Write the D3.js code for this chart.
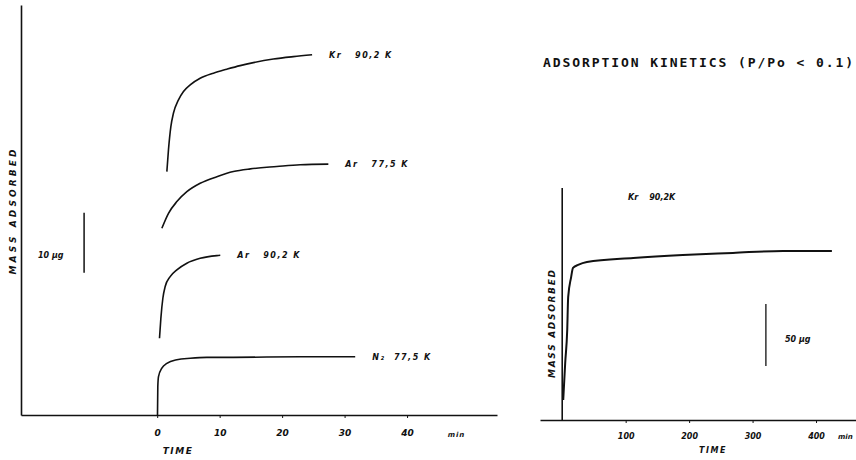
<!DOCTYPE html>
<html><head><meta charset="utf-8">
<script src="https://cdn.jsdelivr.net/npm/d3@7"></script>
<style>
body{margin:0;background:#fff;}
svg{display:block;}
text{font-family:"DejaVu Sans",sans-serif;font-weight:bold;font-style:italic;fill:#111;white-space:pre;}
</style></head>
<body>
<svg id="c" width="856" height="460"></svg>
<script>
// ---- Data (time in min, mass in µg, curves offset as drawn) ----
const leftTicks = [0, 10, 20, 30, 40];
const rightTicks = [100, 200, 300, 400];

const krLeftT = [1.55,1.81,2.19,2.61,3.41,4.21,5.28,6.88,9.01,11.15,13.28,15.4,18.6,21.8,24.8];
const krLeftM = [40.55,44.2,48.05,50.3,52.5,53.9,55,56.1,56.95,57.6,58.2,58.7,59.3,59.7,60];

const ar775T = [0.75,1.81,3.15,4.75,6.88,9.55,12.2,14.9,19.15,22.9,27.4];
const ar775M = [31.1,33.6,35.55,37.2,38.6,39.7,40.55,41,41.4,41.7,41.8];

const ar902T = [0.37,0.59,0.91,1.28,2.08,3.15,4.75,6.88,9.55,10.1];
const ar902M = [12.78,16.1,19.45,21.4,23.05,24.17,25.28,26.1,26.55,26.6];

const n2T = [0.05,0.1,0.21,0.75,1.55,3.15,5.3,7.95,12.2,22.9,31.7];
const n2M = [0,4.7,6.4,7.8,8.6,9.2,9.45,9.6,9.6,9.7,9.7];

const krRightT = [1.6,4.7,7.9,9.4,14,17,25,39,112,190,269,348,425];
const krRightM = [16.1,46,72.6,99,115,122.6,125,127.4,130.6,133,134.7,136.3,136.3];

const leftSeries = [
  {label:"Kr   90,2 K", t:krLeftT, m:krLeftM},
  {label:"Ar   77,5 K", t:ar775T, m:ar775M},
  {label:"Ar   90,2 K", t:ar902T, m:ar902M},
  {label:"N₂  77,5 K", t:n2T, m:n2M}
];

const svg = d3.select("#c");

// ---- Left panel ----
const xL = d3.scaleLinear().domain([-21.8, 54.4]).range([21, 497]);
const yL = d3.scaleLinear().domain([0, 68.3]).range([415, 5]);

const gxL = svg.append("g").attr("transform","translate(0,415)")
  .call(d3.axisBottom(xL).tickValues(leftTicks).tickSize(3).tickSizeOuter(0).tickPadding(12));
gxL.select(".domain").attr("stroke","#111").attr("stroke-width",1.6);
gxL.selectAll(".tick line").attr("stroke","#111");
gxL.selectAll(".tick text").style("font-size","9px").style("font-family","DejaVu Sans").style("font-weight","bold").style("font-style","italic").attr("fill","#111");

const gyL = svg.append("g").attr("transform","translate(21,0)")
  .call(d3.axisLeft(yL).tickValues([]).tickSizeOuter(0));
gyL.select(".domain").attr("stroke","#111").attr("stroke-width",1.6);

svg.append("text").attr("x", xL(46.5)).attr("y", 437).style("font-size","7px").style("letter-spacing","1px").text("min");
svg.append("text").attr("x", 178).attr("y", 454).attr("text-anchor","middle").style("font-size","9px").style("letter-spacing","1.5px").text("TIME");
svg.append("text").attr("transform","translate(16,212) rotate(-90)").attr("text-anchor","middle")
  .attr("textLength",125).attr("lengthAdjust","spacing").style("font-size","9px").text("MASS ADSORBED");

const line = (xs, ys) => d3.line().x(d => xs(d[0])).y(d => ys(d[1])).curve(d3.curveMonotoneX);

leftSeries.forEach(s => {
  const pts = s.t.map((t,i) => [t, s.m[i]]);
  svg.append("path").datum(pts).attr("d", line(xL,yL)).attr("fill","none").attr("stroke","#111").attr("stroke-width",1.6);
  const last = pts[pts.length-1];
  svg.append("text").attr("x", xL(last[0]) + 17).attr("y", yL(last[1]) + 3)
    .style("font-size","8px").style("letter-spacing","1.5px").text(s.label);
});

// scale bar 10 µg
svg.append("line").attr("x1", xL(-11.7)).attr("x2", xL(-11.7)).attr("y1", yL(23.7)).attr("y2", yL(33.7))
  .attr("stroke","#111").attr("stroke-width",1.5);
svg.append("text").attr("x", 38).attr("y", 258).style("font-size","8px").text("10 µg");

// ---- Right panel ----
const xR = d3.scaleLinear().domain([-35, 463]).range([540, 856]);
const yR = d3.scaleLinear().domain([0, 187]).range([420, 188]);

const gxR = svg.append("g").attr("transform","translate(0,420)")
  .call(d3.axisBottom(xR).tickValues(rightTicks).tickSize(3).tickSizeOuter(0).tickPadding(10));
gxR.select(".domain").attr("stroke","#111").attr("stroke-width",1.6);
gxR.selectAll(".tick line").attr("stroke","#111");
gxR.selectAll(".tick text").style("font-size","8px").style("font-family","DejaVu Sans").style("font-weight","bold").style("font-style","italic").attr("fill","#111");

svg.append("line").attr("x1", xR(0)).attr("x2", xR(0)).attr("y1", yR(0)).attr("y2", yR(187))
  .attr("stroke","#111").attr("stroke-width",1.6);

svg.append("text").attr("x", 838).attr("y", 439).style("font-size","7px").text("min");
svg.append("text").attr("x", 713).attr("y", 453).attr("text-anchor","middle").style("font-size","8px").style("letter-spacing","1.5px").text("TIME");
svg.append("text").attr("transform","translate(555,324) rotate(-90)").attr("text-anchor","middle")
  .attr("textLength",108).attr("lengthAdjust","spacing").style("font-size","9px").text("MASS ADSORBED");

const krR = krRightT.map((t,i) => [t, krRightM[i]]);
svg.append("path").datum(krR).attr("d", line(xR,yR)).attr("fill","none").attr("stroke","#111").attr("stroke-width",2);
svg.append("text").attr("x", 628).attr("y", 200).style("font-size","8px").text("Kr    90,2K");

// scale bar 50 µg
svg.append("line").attr("x1", xR(321)).attr("x2", xR(321)).attr("y1", yR(43.5)).attr("y2", yR(93.5))
  .attr("stroke","#111").attr("stroke-width",1.3);
svg.append("text").attr("x", 785).attr("y", 342).style("font-size","8px").text("50 µg");

// Title
svg.append("text").attr("x", 543).attr("y", 67).attr("textLength",310).attr("lengthAdjust","spacing")
  .style("font-family","DejaVu Sans Mono").style("font-style","normal").style("font-weight","bold")
  .style("font-size","13px").text("ADSORPTION KINETICS (P/Po < 0.1)");
</script>
</body></html>
